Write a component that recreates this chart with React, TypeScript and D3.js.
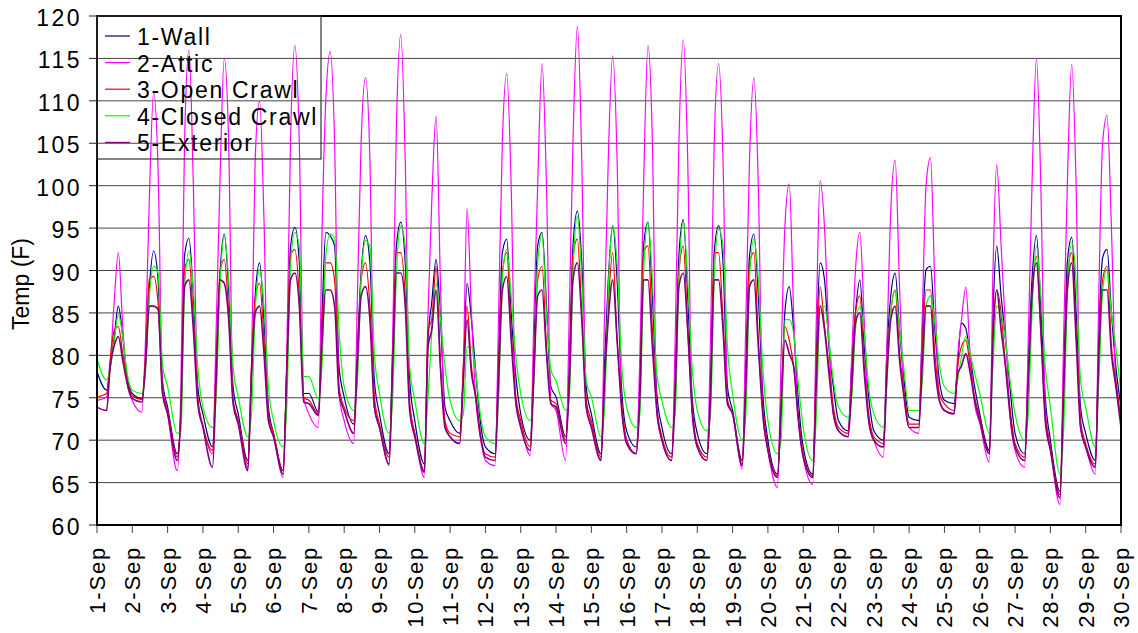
import React from 'react';
import * as d3 from 'd3';

const DAY_LABELS = ['1-Sep','2-Sep','3-Sep','4-Sep','5-Sep','6-Sep','7-Sep','8-Sep','9-Sep','10-Sep','11-Sep','12-Sep','13-Sep','14-Sep','15-Sep','16-Sep','17-Sep','18-Sep','19-Sep','20-Sep','21-Sep','22-Sep','23-Sep','24-Sep','25-Sep','26-Sep','27-Sep','28-Sep','29-Sep','30-Sep'];
const Y_TICKS = [60, 65, 70, 75, 80, 85, 90, 95, 100, 105, 110, 115, 120];
// hours of day at which each series was read
const SAMPLE_HOURS = [0, 6.5, 9, 11.5, 14.5, 17.5, 20.5];

const WALL = [
  78.1, 75.9, 78.7, 81.8, 85.8, 82.2, 77.5,
  75.5, 74.9, 79, 87.7, 92.3, 88.9, 77,
  73.9, 68.4, 73, 91.7, 93.8, 87, 76.3,
  73.1, 69.2, 78.7, 89.3, 94.3, 87.7, 76.3,
  73.1, 67.6, 77.1, 87, 90.9, 84.2, 73.9,
  70.8, 66.4, 78.7, 92.7, 95.1, 90.9, 75.5,
  75.5, 73.3, 85, 94.5, 94.1, 92.9, 78.7,
  75.1, 71.9, 81, 89.7, 94.1, 90.9, 77.1,
  73.1, 68.4, 81, 92.9, 95.7, 90.9, 77.1,
  72.3, 67.2, 81.8, 86.2, 91.3, 84.2, 73.9,
  72.3, 70.8, 77.9, 88.5, 84.2, 77.9, 72.3,
  69.2, 68.4, 80.2, 92.1, 93.7, 85, 77.9,
  73.1, 70, 81, 92.9, 94.5, 86, 76.3,
  75.1, 70.4, 79, 92.9, 97, 90.9, 76.3,
  73.1, 68.4, 79, 88.9, 95.3, 88.9, 76.3,
  71.1, 69.2, 77.1, 92.9, 95.7, 87, 75.5,
  71.5, 68.4, 77.1, 91.7, 96, 87, 75.1,
  70.8, 68.4, 77.1, 92.1, 95.3, 90.9, 76.3,
  73.5, 67.6, 79, 91.7, 94.3, 87, 75.5,
  70, 66, 73.1, 85, 88.1, 83, 75.1,
  69.2, 66, 81, 90.9, 88.9, 81, 76.3,
  72.3, 71.1, 79, 85, 88.9, 81, 75.1,
  71.1, 70, 81, 87, 89.7, 83, 77.1,
  72.7, 72.3, 83, 90.1, 90.5, 83, 77.1,
  74.7, 74.3, 79, 83.8, 83.2, 79.8, 76.3,
  73.1, 68.8, 85, 92.9, 87, 81.8, 76.3,
  70.8, 68.4, 79, 88.9, 94.1, 85.8, 75.1,
  70, 64, 77.1, 90.9, 93.9, 85, 73.9,
  70.8, 67.6, 83, 91.5, 92.5, 85, 78.7,
  73.9,
];

const ATTIC = [
  74.7, 75.1, 79, 85.8, 92.1, 83.4, 76.7,
  74.7, 73.3, 82, 98, 111, 102, 76.5,
  73.1, 66.4, 76, 105, 116, 100, 74.7,
  71.7, 68.4, 83, 100, 115, 105, 74.7,
  72.3, 66.8, 78.7, 103, 110, 96, 72.7,
  70.4, 65.6, 80, 105, 116.5, 105, 75,
  73.1, 71.5, 95, 110, 115.8, 105, 75.5,
  72.3, 69.6, 87, 105, 112.7, 103, 73.9,
  71.5, 67, 82, 107, 117.8, 103, 74,
  70.8, 65.6, 85, 98, 108.2, 88, 71.9,
  70.4, 69.6, 78.7, 97.3, 85, 74.7, 70.4,
  67.6, 67, 85, 105, 113.2, 100, 74.7,
  71.9, 68.2, 85, 100, 114.4, 100, 74.3,
  73.5, 67.6, 85, 105, 118.8, 103, 73.9,
  71.9, 67.6, 85, 103, 115.3, 103, 73.9,
  70, 68.4, 80, 100, 116.5, 105, 73.1,
  70, 67.6, 82, 105, 117.2, 103, 73.1,
  69.2, 67.6, 82, 105, 114.4, 103, 74.7,
  73.1, 66.6, 84, 103, 112.7, 100, 73.1,
  68.8, 64.4, 80, 95, 100.2, 85, 73.1,
  68, 64.8, 85, 100.6, 95, 82, 73.1,
  71.1, 70.4, 80, 90, 94.5, 84, 72.3,
  70, 68, 82, 97, 103, 88, 75.5,
  71.5, 70.8, 85, 100, 103.3, 88, 74.7,
  73.5, 73.1, 80, 84, 88, 80, 74.3,
  72, 67.4, 90, 102.5, 93, 83, 73.1,
  68.8, 66.8, 82, 100, 115, 100, 73.9,
  69.2, 62.4, 82, 100, 114.3, 100, 71.5,
  69.2, 66, 88, 105, 108.3, 95, 76.7,
  73.1,
];

const OPEN_CRAWL = [
  75.1, 75.5, 79.5, 82.8, 83.4, 80.2, 77.1,
  75.2, 74.8, 80, 88.9, 89.3, 86.2, 76,
  73.5, 68, 73.5, 90.1, 91.3, 84.2, 75.1,
  71.7, 68.8, 78.7, 89.7, 91.3, 85, 74.7,
  72.3, 67.2, 78.7, 86.6, 88.5, 81.8, 73.1,
  70.8, 66.4, 78.7, 91.7, 92.5, 87, 75,
  74.7, 73.1, 83, 90.9, 90.9, 88.9, 76.3,
  73.9, 72.3, 79, 88.9, 90.9, 85.8, 75.1,
  71.9, 68, 79, 92.1, 92.1, 87, 74.5,
  70.8, 66.4, 83, 84.2, 90.5, 78.7, 72.3,
  70.8, 70.4, 78.7, 85.8, 78.7, 74.7, 70.4,
  68.4, 68, 78.7, 89.7, 92.1, 83, 75.5,
  72.3, 69.2, 79, 88.9, 90.5, 81, 74.7,
  74.3, 70, 77.1, 91.7, 93.7, 85, 74.7,
  72.3, 68, 77.1, 85.8, 92.1, 81.8, 74.7,
  70, 68.4, 75.1, 92.1, 92.9, 83, 73.9,
  70.4, 68, 76.3, 89.7, 92.9, 83, 73.9,
  69.6, 68, 75.1, 92.1, 92.1, 84.2, 74.7,
  73.1, 67.2, 77.1, 90.9, 92.1, 81.8, 73.9,
  69.2, 65.8, 74.7, 83.4, 81.8, 78.7, 73.1,
  68.4, 65.8, 79, 88.1, 83.4, 78.7, 73.9,
  71.5, 70.8, 77.1, 85, 87, 78.7, 73.1,
  70.4, 69.6, 79, 85, 87.7, 80.2, 75.9,
  71.9, 71.9, 81, 87.7, 87.7, 80.2, 75.5,
  74.3, 73.5, 78.7, 81, 81.8, 78.7, 75.1,
  72.7, 68.4, 83, 87.7, 85, 78.7, 73.9,
  69.6, 68, 77.1, 87, 91.7, 83, 73.1,
  69.2, 63.6, 76.3, 88.9, 92.1, 83, 72.3,
  69.6, 67.2, 81, 88.9, 90.5, 81, 77.1,
  72.3,
];

const CLOSED_CRAWL = [
  79.6, 77.1, 78.5, 81.4, 84.8, 82.2, 77.9,
  75.9, 75.5, 78, 86.6, 90.5, 89.7, 79,
  76.3, 70.8, 71, 87.7, 92.3, 87.7, 78.7,
  73.9, 71.5, 75.1, 87.7, 94.1, 88.9, 78.7,
  75.1, 70.4, 73.1, 85, 90.1, 85.8, 76.3,
  72.3, 69.2, 74, 90.5, 94.5, 92.9, 77.5,
  77.5, 74.9, 79, 91.7, 94.3, 93.9, 83,
  76.3, 73.5, 77, 88.9, 93.5, 92.9, 80.2,
  75.5, 70.8, 75.1, 89.7, 95.3, 92.9, 78.7,
  74.7, 69.6, 75.1, 82.6, 88.5, 84.2, 78.7,
  74.7, 72.3, 73.1, 81, 81, 77.9, 73.1,
  70.4, 69.6, 75.1, 88.9, 92.5, 87, 80.2,
  75.5, 72.3, 77, 90.9, 94.1, 85, 78.3,
  77, 73.5, 75.1, 89.7, 96.4, 88.9, 77,
  75.1, 70.4, 73.9, 87.7, 95.3, 90.9, 79.4,
  73.9, 71.5, 73.1, 89.7, 95.7, 88.9, 77.9,
  74.7, 71.5, 73.1, 88.9, 95.7, 88.9, 78.7,
  73.5, 71.1, 73.1, 88.9, 94.9, 92.9, 81,
  75.5, 70, 73.1, 88.9, 93.7, 88.9, 78.7,
  72.3, 68.4, 70, 84.2, 84.2, 82.6, 77,
  71.5, 67.6, 73.1, 85.8, 85.8, 81.8, 77,
  73.9, 72.7, 75.1, 83, 85.8, 82.6, 76.3,
  73.1, 71.5, 77.1, 85, 87.7, 83, 78.3,
  73.5, 73.5, 77.1, 85.8, 87, 83.8, 79,
  76.3, 75.5, 77.1, 79.8, 82.2, 80.2, 77.9,
  75.5, 70.8, 79, 85.8, 85, 81.8, 77.1,
  73.1, 70, 73.1, 85, 92.9, 87, 78.7,
  73.9, 66, 71.1, 87, 93.3, 88.9, 77.1,
  73.9, 69.2, 77.1, 87.7, 90.1, 85, 81,
  75.5,
];

const EXTERIOR = [
  73.9, 73.5, 78.7, 81, 82.2, 79.4, 76.7,
  74.9, 74.5, 79, 85.8, 85.8, 85.4, 75.5,
  73.1, 67.6, 73, 88.1, 88.9, 83, 74.3,
  71.5, 66.8, 77.1, 88.9, 88.5, 84.2, 74.3,
  71.9, 66.4, 77.9, 85, 85.8, 80.2, 72.3,
  70.4, 66, 77.9, 88.9, 89.7, 85.8, 74.5,
  74.3, 72.9, 81.8, 87.7, 87.7, 85.8, 75.5,
  73.5, 70.8, 79, 87, 88.1, 84.2, 73.9,
  71.5, 67.2, 78.7, 89.7, 89.7, 85.8, 73.5,
  70.4, 66.2, 81, 83, 87.7, 78.3, 71.5,
  70.4, 69.6, 77.1, 84.2, 77.9, 75.1, 70.8,
  68, 67.6, 77.1, 87.7, 89.3, 81.8, 74.7,
  71.5, 68.8, 77.9, 87, 87.7, 80.2, 74.3,
  73.9, 69.6, 76.3, 88.9, 90.9, 84.2, 73.9,
  71.5, 67.6, 77.1, 84.2, 88.9, 81.8, 73.9,
  69.6, 68.4, 75.1, 88.9, 88.9, 81, 73.5,
  70, 67.6, 75.5, 88.1, 89.7, 83, 73.5,
  69.2, 67.6, 75.1, 88.9, 88.9, 83, 74.3,
  73.1, 67, 76.3, 88.1, 88.9, 81, 73.1,
  68.8, 65.6, 74, 81.8, 80.2, 78.7, 72.7,
  68, 65.6, 77.1, 85.8, 83, 77.9, 73.1,
  71.1, 70.4, 76.3, 83.8, 85, 77.9, 72.3,
  70, 69.2, 78, 84.2, 85.8, 79.4, 75.1,
  71.5, 71.5, 79, 85.8, 85.8, 78.7, 74.7,
  73.5, 73.1, 77.9, 78.7, 80.2, 77.9, 74.7,
  72.3, 68.4, 81.8, 87.7, 83, 78.7, 73.1,
  69.2, 67.6, 77.1, 87, 90.9, 83, 72.3,
  68.8, 63.2, 75.5, 87.7, 90.9, 81.8, 71.5,
  69.2, 66.8, 80.2, 87.7, 87.7, 80.2, 76.3,
  71.5,
];

const SERIES_NAMES = ['1-Wall', '2-Attic', '3-Open Crawl', '4-Closed Crawl', '5-Exterior'];
const SERIES_VALUES = [WALL, ATTIC, OPEN_CRAWL, CLOSED_CRAWL, EXTERIOR];
const SERIES_COLORS = ['#000080', '#FF00FF', '#FF0000', '#00FF00', '#800080'];

const W = 1138;
const H = 633;
const M = { left: 97, right: 1121, top: 16, bottom: 525 };
const FONT = '"Liberation Sans", Arial, sans-serif';

function toPoints(vals: number[]): [number, number][] {
  const n = SAMPLE_HOURS.length;
  const days = DAY_LABELS.length - 1;
  return vals.map((v, i) => {
    const day = Math.floor(i / n);
    const t = day >= days ? days : day + SAMPLE_HOURS[i % n] / 24;
    return [t, v] as [number, number];
  });
}

export default function App() {
  const x = d3.scaleLinear().domain([0, DAY_LABELS.length - 1]).range([M.left, M.right]);
  const y = d3.scaleLinear().domain([60, 120]).range([M.bottom, M.top]);
  const line = d3
    .line<[number, number]>()
    .x((d) => x(d[0]))
    .y((d) => y(d[1]))
    .curve(d3.curveMonotoneX);

  return (
    <svg
      width={W}
      height={H}
      style={{ position: 'absolute', left: 0, top: 0, background: '#fff' }}
      fontFamily={FONT}
    >
      <rect x={0} y={0} width={W} height={H} fill="#fff" />
      {/* gridlines */}
      {Y_TICKS.filter((t) => t > 60 && t < 120).map((t) => (
        <line key={'g' + t} x1={M.left} x2={M.right} y1={y(t)} y2={y(t)} stroke="#444" strokeWidth={1} />
      ))}
      {/* y ticks and labels */}
      {Y_TICKS.map((t) => (
        <g key={'y' + t}>
          <line x1={M.left - 8} x2={M.left} y1={y(t)} y2={y(t)} stroke="#222" strokeWidth={1} />
          <text x={82} y={y(t) + 10} textAnchor="end" fontSize={23} letterSpacing={2.5} fill="#000">
            {t}
          </text>
        </g>
      ))}
      {/* x ticks and labels */}
      {DAY_LABELS.map((lab, i) => (
        <g key={'x' + i}>
          <line x1={x(i)} x2={x(i)} y1={M.bottom} y2={M.bottom + 8} stroke="#444" strokeWidth={1} />
          <text
            transform={`translate(${x(i)},${M.bottom + 21}) rotate(-90)`}
            textAnchor="end"
            dy="0.36em"
            fontSize={22}
            letterSpacing={1.8}
            fill="#000"
          >
            {lab}
          </text>
        </g>
      ))}
      {/* series */}
      <g>
        {SERIES_VALUES.map((vals, i) => (
          <path
            key={SERIES_NAMES[i]}
            d={line(toPoints(vals)) || ''}
            fill="none"
            stroke={SERIES_COLORS[i]}
            strokeWidth={i === 4 ? 1.6 : 1.2}
            strokeLinejoin="round"
          />
        ))}
      </g>
      {/* frame */}
      <rect
        x={M.left}
        y={M.top}
        width={M.right - M.left}
        height={M.bottom - M.top}
        fill="none"
        stroke="#000"
        strokeWidth={2}
      />
      {/* y title */}
      <text transform={`translate(29,284) rotate(-90)`} textAnchor="middle" fontSize={23} fill="#000">
        Temp (F)
      </text>
      {/* legend */}
      <g>
        <rect x={M.left} y={M.top} width={224} height={143} fill="none" stroke="#333" strokeWidth={1.2} />
        {SERIES_NAMES.map((name, i) => {
          const ly = 36 + i * 26.6;
          return (
            <g key={'l' + name}>
              <line x1={105} x2={130} y1={ly} y2={ly} stroke={SERIES_COLORS[i]} strokeWidth={1.2} />
              <text x={137} y={ly + 9} fontSize={23} letterSpacing={1.7} fill="#000">
                {name}
              </text>
            </g>
          );
        })}
      </g>
    </svg>
  );
}
